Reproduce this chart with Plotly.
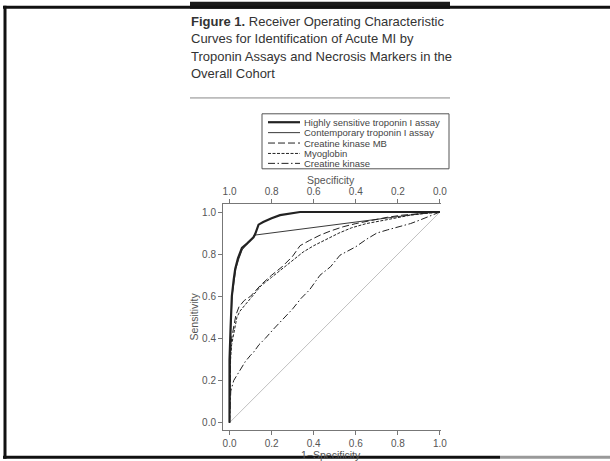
import plotly.graph_objects as go

# ---------------- data ----------------
series_names = [
    "Highly sensitive troponin I assay",
    "Contemporary troponin I assay",
    "Creatine kinase MB",
    "Myoglobin",
    "Creatine kinase",
]

hs_tni_x = [0, 0.0, 0.005, 0.011, 0.02, 0.027, 0.04, 0.059, 0.083, 0.1, 0.114, 0.122, 0.13, 0.138,
            0.16, 0.177, 0.2, 0.24, 0.3, 0.335, 1.0]
hs_tni_y = [0, 0.3, 0.45, 0.6, 0.68, 0.73, 0.78, 0.83, 0.85, 0.865, 0.88, 0.895, 0.92, 0.94,
            0.952, 0.96, 0.97, 0.985, 0.995, 1.0, 1.0]

cont_tni_x = [0, 0.002, 0.006, 0.012, 0.022, 0.03, 0.045, 0.06, 0.085, 0.105, 0.118, 0.62, 0.75, 0.85, 0.93, 1.0]
cont_tni_y = [0, 0.3, 0.45, 0.6, 0.68, 0.73, 0.78, 0.82, 0.85, 0.87, 0.89, 0.955, 0.97, 0.985, 0.995, 1.0]

ckmb_x = [0, 0.002, 0.005, 0.01, 0.02, 0.03, 0.045, 0.07, 0.1, 0.15, 0.2, 0.25, 0.3, 0.335, 0.38,
          0.43, 0.48, 0.54, 0.6, 0.67, 0.75, 0.82, 0.9, 1.0]
ckmb_y = [0, 0.2, 0.33, 0.4, 0.46, 0.51, 0.55, 0.58, 0.6, 0.655, 0.7, 0.74, 0.79, 0.84, 0.865,
          0.89, 0.91, 0.93, 0.945, 0.96, 0.975, 0.985, 0.993, 1.0]

myo_x = [0, 0.002, 0.005, 0.01, 0.02, 0.035, 0.05, 0.075, 0.1, 0.15, 0.2, 0.25, 0.3, 0.35, 0.4,
         0.46, 0.52, 0.58, 0.65, 0.73, 0.8, 0.86, 0.93, 1.0]
myo_y = [0, 0.15, 0.3, 0.37, 0.43, 0.5, 0.53, 0.56, 0.59, 0.65, 0.69, 0.73, 0.77, 0.81, 0.84,
         0.87, 0.9, 0.925, 0.945, 0.96, 0.975, 0.985, 0.993, 1.0]

ck_x = [0, 0.003, 0.006, 0.02, 0.035, 0.06, 0.075, 0.1, 0.115, 0.14, 0.17, 0.21, 0.26, 0.3, 0.34,
        0.38, 0.43, 0.48, 0.525, 0.6, 0.65, 0.7, 0.75, 0.81, 0.86, 0.9, 0.95, 1.0]
ck_y = [0, 0.1, 0.15, 0.2, 0.225, 0.27, 0.29, 0.32, 0.335, 0.37, 0.4, 0.445, 0.5, 0.54, 0.59,
        0.63, 0.70, 0.74, 0.795, 0.835, 0.87, 0.9, 0.915, 0.93, 0.945, 0.96, 0.98, 1.0]

ref_x = [0, 1]
ref_y = [0, 1]

tick_vals = [0, 0.2, 0.4, 0.6, 0.8, 1.0]
bottom_tick_text = ["0.0", "0.2", "0.4", "0.6", "0.8", "1.0"]
top_tick_text = ["1.0", "0.8", "0.6", "0.4", "0.2", "0.0"]
left_tick_text = ["0.0", "0.2", "0.4", "0.6", "0.8", "1.0"]

title_lines = [
    "<b>Figure 1.</b> Receiver Operating Characteristic",
    "Curves for Identification of Acute MI by",
    "Troponin Assays and Necrosis Markers in the",
    "Overall Cohort",
]

# ---------------- layout geometry (pixels) ----------------
W, H = 610, 461
PL, PR, PT, PB = 223, 441, 204, 432


def px(x):
    return (x - PL) / (PR - PL)


def py(y):
    return (PB - y) / (PB - PT)


INK = "#222222"
AX = "#777777"
TXT = "#555555"
FONT = "Liberation Sans, Arial, sans-serif"

styles = [
    dict(color=INK, width=2.2, dash="solid"),
    dict(color=INK, width=0.9, dash="solid"),
    dict(color=INK, width=1.0, dash="7px,3px"),
    dict(color=INK, width=1.0, dash="3px,1.5px"),
    dict(color=INK, width=1.0, dash="7px,2.5px,1.5px,2.5px"),
]

fig = go.Figure()
fig.add_trace(go.Scatter(x=ref_x, y=ref_y, mode="lines",
                         line=dict(color="#b0b0b0", width=0.8), showlegend=False, hoverinfo="skip"))
data_xy = [(hs_tni_x, hs_tni_y), (cont_tni_x, cont_tni_y), (ckmb_x, ckmb_y), (myo_x, myo_y), (ck_x, ck_y)]
order = [4, 3, 2, 1, 0]
for i in order:
    xs, ys = data_xy[i]
    fig.add_trace(go.Scatter(x=xs, y=ys, mode="lines", name=series_names[i],
                             line=styles[i], showlegend=False))
# carrier for top axis
fig.add_trace(go.Scatter(x=[0, 1], y=[0, 1], xaxis="x2", mode="lines",
                         line=dict(width=0), showlegend=False, hoverinfo="skip", opacity=0))

axis_common = dict(showline=True, linecolor=AX, linewidth=1, ticks="outside", ticklen=4,
                   tickcolor=AX, tickwidth=1, showgrid=False, zeroline=False,
                   tickfont=dict(family=FONT, size=10, color=TXT))

fig.update_layout(
    width=W, height=H,
    margin=dict(l=PL, r=W - PR, t=PT, b=H - PB, pad=0),
    paper_bgcolor="white", plot_bgcolor="white",
    showlegend=False,
    xaxis=dict(range=[-0.031, 1.005], tickvals=tick_vals, ticktext=bottom_tick_text, **axis_common),
    xaxis2=dict(range=[-0.031, 1.005], tickvals=tick_vals, ticktext=top_tick_text,
                overlaying="x", side="top", anchor="y", **axis_common),
    yaxis=dict(range=[-0.035, 1.038], tickvals=tick_vals, ticktext=left_tick_text, **axis_common),
)

shapes = []
annotations = []

# title
title_y = [20, 37.5, 55, 72.5]
for t, yy in zip(title_lines, title_y):
    annotations.append(dict(xref="paper", yref="paper", x=px(189), y=py(yy), text=t,
                            showarrow=False, xanchor="left", yanchor="middle",
                            font=dict(family=FONT, size=13, color="#333333")))
# separator
shapes.append(dict(type="line", xref="paper", yref="paper", x0=px(190), x1=px(450),
                   y0=py(97), y1=py(97), line=dict(color="#888888", width=1)))

# legend box
shapes.append(dict(type="rect", xref="paper", yref="paper", x0=px(262), x1=px(449),
                   y0=py(113), y1=py(168.5), line=dict(color="#555555", width=1)))
leg_y = [121.5, 132, 142.5, 153, 163]
for i, name in enumerate(series_names):
    st = styles[i]
    shapes.append(dict(type="line", xref="paper", yref="paper", x0=px(268), x1=px(300),
                       y0=py(leg_y[i]), y1=py(leg_y[i]),
                       line=dict(color=st["color"], width=st["width"], dash=st["dash"])))
    annotations.append(dict(xref="paper", yref="paper", x=px(302), y=py(leg_y[i]), text=name,
                            showarrow=False, xanchor="left", yanchor="middle",
                            font=dict(family=FONT, size=9.5, color="#444444")))

# axis titles
annotations.append(dict(xref="paper", yref="paper", x=px(331), y=py(180), text="Specificity",
                        showarrow=False, xanchor="center", yanchor="middle",
                        font=dict(family=FONT, size=10.5, color=TXT)))
annotations.append(dict(xref="paper", yref="paper", x=px(331), y=py(457), text="1\u2212Specificity",
                        showarrow=False, xanchor="center", yanchor="middle",
                        font=dict(family=FONT, size=10.5, color=TXT)))
annotations.append(dict(xref="paper", yref="paper", x=px(193.5), y=py(318), text="Sensitivity",
                        showarrow=False, xanchor="center", yanchor="middle", textangle=-90,
                        font=dict(family=FONT, size=10.5, color=TXT)))

# page frame
shapes.append(dict(type="rect", xref="paper", yref="paper", x0=px(190), x1=px(450),
                   y0=py(0), y1=py(7), line=dict(width=0), fillcolor="#1a1a1a", layer="above"))
shapes.append(dict(type="line", xref="paper", yref="paper", x0=px(3), x1=px(610),
                   y0=py(5.5), y1=py(5.5), line=dict(color="#111111", width=3), layer="above"))
shapes.append(dict(type="line", xref="paper", yref="paper", x0=px(5), x1=px(5),
                   y0=py(4), y1=py(461), line=dict(color="#111111", width=3), layer="above"))
shapes.append(dict(type="line", xref="paper", yref="paper", x0=px(3), x1=px(500),
                   y0=py(459.5), y1=py(459.5), line=dict(color="#111111", width=3), layer="above"))
shapes.append(dict(type="line", xref="paper", yref="paper", x0=px(500), x1=px(610),
                   y0=py(459.5), y1=py(459.5), line=dict(color="#999999", width=3), layer="above"))

fig.update_layout(shapes=shapes, annotations=annotations)
fig.write_html("out.html", config={"displayModeBar": False},
               post_script="document.body.style.margin='0';document.body.style.overflow='hidden';")
